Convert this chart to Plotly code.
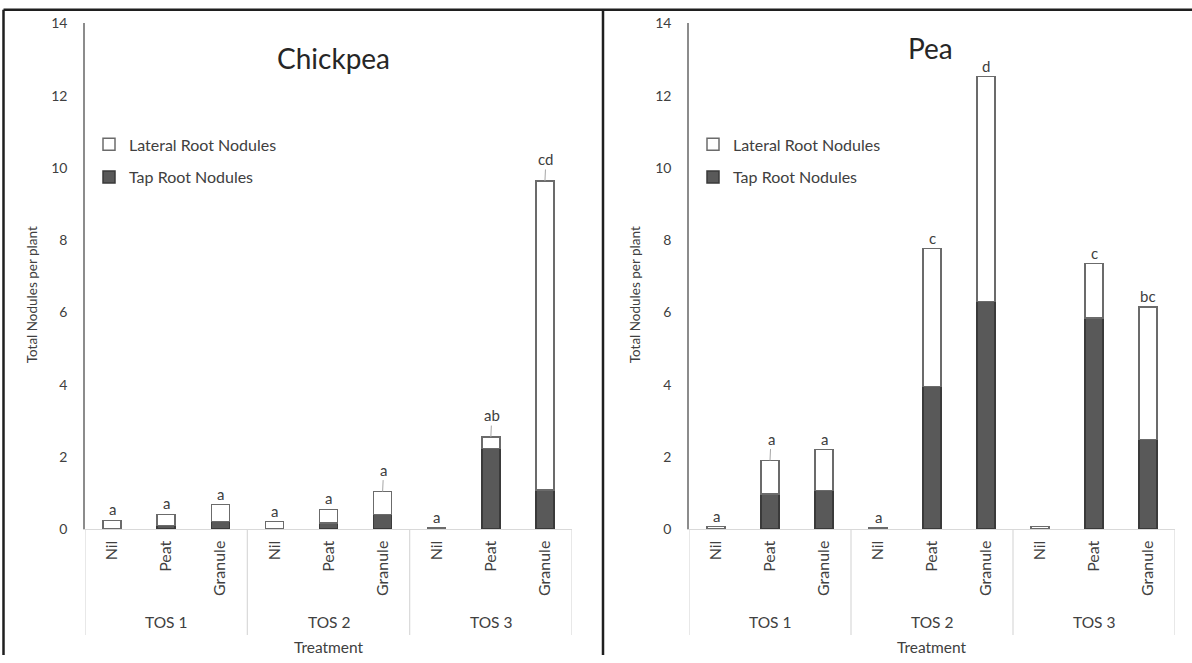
import plotly.graph_objects as go

# Nodule counts per plant, stacked: tap root (bottom) + lateral root (top)
treatments = ["Nil", "Peat", "Granule"] * 3
tos_groups = ["TOS 1", "TOS 2", "TOS 3"]

chickpea_tap = [0.0, 0.10, 0.21, 0.0, 0.17, 0.41, 0.0, 2.24, 1.08]
chickpea_total = [0.24, 0.41, 0.68, 0.21, 0.55, 1.04, 0.03, 2.55, 9.64]
chickpea_letters = ["a", "a", "a", "a", "a", "a", "a", "ab", "cd"]
chickpea_leader = [5, 7, 8]

pea_tap = [0.0, 0.97, 1.07, 0.0, 3.95, 6.30, 0.0, 5.85, 2.48]
pea_total = [0.07, 1.90, 2.20, 0.04, 7.77, 12.53, 0.07, 7.35, 6.15]
pea_letters = ["a", "a", "a", "a", "c", "d", "", "c", "bc"]
pea_leader = [1]

chickpea_lateral = [t - p for t, p in zip(chickpea_total, chickpea_tap)]
pea_lateral = [t - p for t, p in zip(pea_total, pea_tap)]

W, H = 1192, 663
FONT = "Lato"
TXT = "#404040"
TAP_FILL = "#595959"
TAP_LINE = "#3a3a3a"
LAT_LINE = "#6b6b6b"
GRID_LINE = "#d9d9d9"

# the page is shown with a small vertical inset; place items by on-screen row
Y_SCALE, Y_OFF = 0.975, 7.5


def px_x(p):
    return p / W


def px_y(q):
    p = (q - Y_OFF) / Y_SCALE
    return (H - p) / H


y_dom = [px_y(528), px_y(22)]
panels = [
    dict(name="Chickpea", xa="x", ya="y", dom=[px_x(85), px_x(572)], tap=chickpea_tap,
         lat=chickpea_lateral, tot=chickpea_total, letters=chickpea_letters,
         leader=chickpea_leader, legend="legend", title_xy=(333, 57), ytitle_x=32),
    dict(name="Pea", xa="x2", ya="y2", dom=[px_x(689), px_x(1175)], tap=pea_tap,
         lat=pea_lateral, tot=pea_total, letters=pea_letters,
         leader=pea_leader, legend="legend2", title_xy=(930, 47), ytitle_x=635),
]

fig = go.Figure()
xs = list(range(len(treatments)))
annotations = []
shapes = []

for i, pn in enumerate(panels):
    fig.add_trace(go.Bar(
        x=xs, y=pn["tap"], name="Tap Root Nodules", xaxis=pn["xa"], yaxis=pn["ya"],
        marker=dict(color=TAP_FILL, line=dict(color=TAP_LINE, width=1.5)),
        legend=pn["legend"], legendgroup="tap%d" % i, legendrank=2, hoverinfo="y",
    ))
    fig.add_trace(go.Bar(
        x=xs, y=pn["lat"], name="Lateral Root Nodules", xaxis=pn["xa"], yaxis=pn["ya"],
        marker=dict(color="white", line=dict(color=LAT_LINE, width=1.5)),
        legend=pn["legend"], legendgroup="lat%d" % i, legendrank=1, hoverinfo="y",
    ))

    # significance letters above each bar
    for k, (lab, tot) in enumerate(zip(pn["letters"], pn["tot"])):
        if not lab:
            continue
        if k in pn["leader"]:
            annotations.append(dict(
                x=k, y=tot, xref=pn["xa"], yref=pn["ya"], text=lab, showarrow=True,
                arrowhead=0, arrowwidth=1, arrowcolor="#a6a6a6", ax=1, ay=-22,
                font=dict(family=FONT, size=15, color=TXT)))
        else:
            annotations.append(dict(
                x=k, y=tot, xref=pn["xa"], yref=pn["ya"], text=lab, showarrow=False,
                yanchor="bottom", yshift=0, font=dict(family=FONT, size=15, color=TXT)))

    # group labels and dividers of the treatment table
    for g, grp in enumerate(tos_groups):
        annotations.append(dict(
            x=3 * g + 1, y=px_y(621), xref=pn["xa"], yref="paper", text=grp,
            xanchor="center", yanchor="middle",
            showarrow=False, font=dict(family=FONT, size=15.5, color=TXT)))
    for xb in [-0.5, 2.5, 5.5, 8.5]:
        shapes.append(dict(type="line", xref=pn["xa"], yref="paper", x0=xb, x1=xb,
                           y0=px_y(528), y1=px_y(634),
                           line=dict(color=GRID_LINE, width=1.2)))

    annotations.append(dict(
        x=(pn["dom"][0] + pn["dom"][1]) / 2, y=px_y(646), xref="paper", yref="paper",
        xanchor="center", yanchor="middle",
        text="Treatment", showarrow=False, font=dict(family=FONT, size=15.5, color=TXT)))
    annotations.append(dict(
        x=px_x(pn["ytitle_x"]), y=px_y(294), xref="paper", yref="paper",
        xanchor="center", yanchor="middle", textangle=-90,
        text="Total Nodules per plant", showarrow=False,
        font=dict(family=FONT, size=13.5, color=TXT)))
    tx, ty = pn["title_xy"]
    annotations.append(dict(
        x=px_x(tx), y=px_y(ty), xref="paper", yref="paper", text=pn["name"],
        xanchor="center", yanchor="middle",
        showarrow=False, font=dict(family=FONT, size=28, color="#262626")))

    axis_x = dict(domain=pn["dom"], range=[-0.5, 8.5], tickmode="array", tickvals=xs,
                  ticktext=treatments, tickangle=-90, showgrid=False, zeroline=False,
                  showline=True, linecolor=GRID_LINE, linewidth=1.2, ticks="",
                  ticklabelstandoff=4,
                  tickfont=dict(family=FONT, size=16, color=TXT), anchor=pn["ya"],
                  fixedrange=True)
    axis_y = dict(domain=y_dom, range=[0, 14], tickmode="array",
                  tickvals=list(range(0, 15, 2)), showgrid=False, zeroline=False,
                  showline=True, linecolor="#8c8c8c", linewidth=1.5, ticks="",
                  ticklabelstandoff=13,
                  tickfont=dict(family=FONT, size=14, color=TXT), anchor=pn["xa"],
                  fixedrange=True)
    suffix = "" if i == 0 else "2"
    fig.update_layout(**{"xaxis" + suffix: axis_x, "yaxis" + suffix: axis_y})

# outer frame and panel divider
frame = dict(color="#1f1f1f", width=2.5)
top = 1 - 0.8 / H
shapes += [
    dict(type="line", xref="paper", yref="paper", x0=px_x(3.5), x1=px_x(3.5),
         y0=0, y1=top, line=frame),
    dict(type="line", xref="paper", yref="paper", x0=px_x(3.5), x1=1,
         y0=top, y1=top, line=frame),
    dict(type="line", xref="paper", yref="paper", x0=px_x(603), x1=px_x(603),
         y0=0, y1=top, line=frame),
]

legend_style = dict(traceorder="grouped", tracegroupgap=9,
                    bgcolor="rgba(0,0,0,0)", font=dict(family=FONT, size=16, color=TXT),
                    xanchor="left", yanchor="top", itemwidth=30)

fig.update_layout(
    width=W, height=H, margin=dict(l=0, r=0, t=0, b=0),
    paper_bgcolor="white", plot_bgcolor="white",
    barmode="stack", bargap=0.667,
    showlegend=True,
    legend=dict(x=px_x(89), y=px_y(126), **legend_style),
    legend2=dict(x=px_x(693), y=px_y(126), **legend_style),
    annotations=annotations, shapes=shapes,
)

fig.write_html("out.html")
